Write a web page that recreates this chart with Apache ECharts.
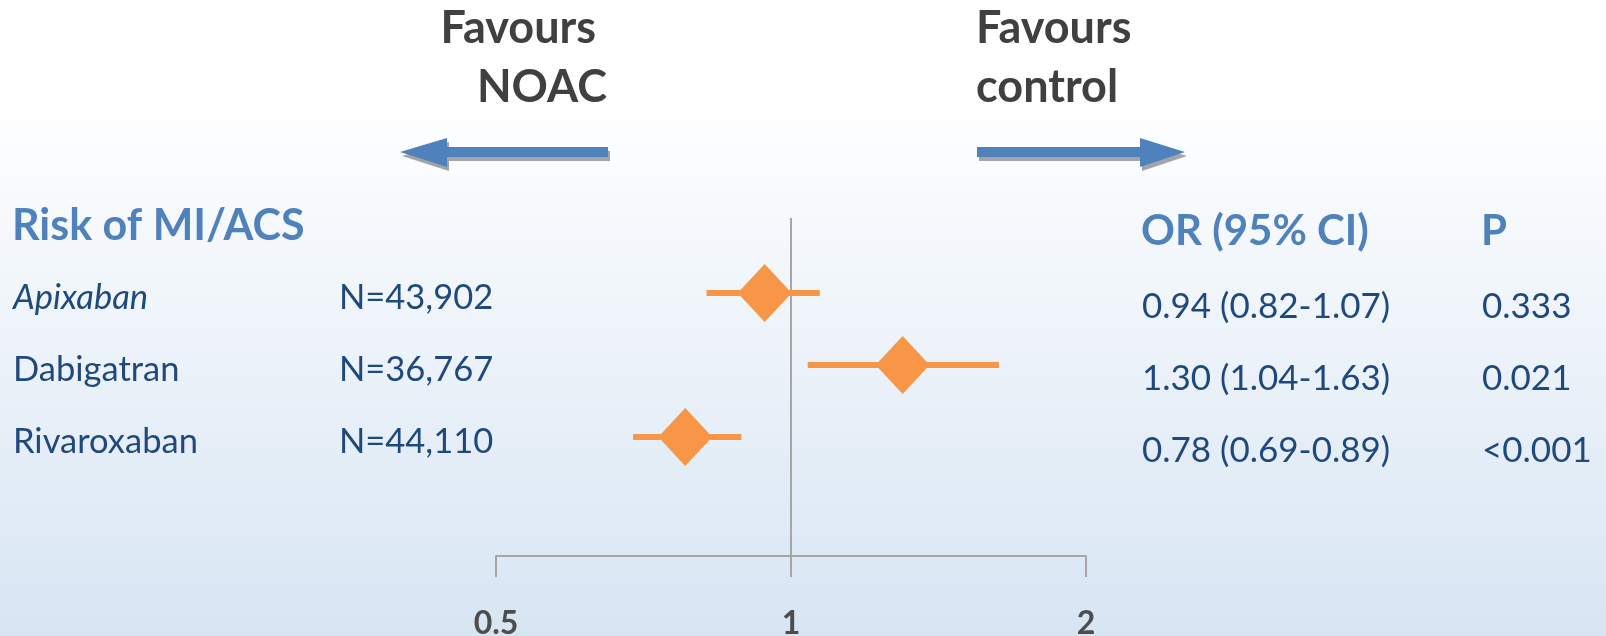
<!DOCTYPE html>
<html>
<head>
<meta charset="utf-8">
<script src="https://cdn.jsdelivr.net/npm/echarts@6/dist/echarts.min.js"></script>
<style>
  html, body { margin: 0; padding: 0; }
  #chart { width: 1606px; height: 636px; }
</style>
</head>
<body>
<div id="chart"></div>
<script>
// ---- data ----
const drugs = ['Apixaban', 'Dabigatran', 'Rivaroxaban'];
const nLabels = ['N=43,902', 'N=36,767', 'N=44,110'];
const orValues = [0.94, 1.30, 0.78];
const ciLow = [0.82, 1.04, 0.69];
const ciHigh = [1.07, 1.63, 0.89];
const pValues = ['0.333', '0.021', '<0.001'];
const xTicks = [0.5, 1, 2];
const refValue = 1;

const titleLeft = 'Risk of MI/ACS';
const titleOR = 'OR (95% CI)';
const titleP = 'P';
const favLeft = ['Favours ', 'NOAC'];
const favRight = ['Favours', 'control'];

// ---- derived ----
const rows = drugs.map((d, i) => i);
const orText = orValues.map((v, i) => v.toFixed(2) + ' (' + ciLow[i].toFixed(2) + '-' + ciHigh[i].toFixed(2) + ')');

const FONT = 'Lato';
const navy = '#1f497d';
const blue = '#4f81bd';
const grey = '#404040';
const lineGrey = '#a6a6a6';
const orange = '#f79646';

const chart = echarts.init(document.getElementById('chart'), null, { renderer: 'canvas' });

const arrowStyle = {
  fill: blue,
  shadowBlur: 0,
  shadowOffsetX: 2,
  shadowOffsetY: 4,
  shadowColor: 'rgba(0,0,0,0.35)'
};

const option = {
  animation: false,
  backgroundColor: {
    type: 'linear', x: 0, y: 0, x2: 0, y2: 1,
    colorStops: [
      { offset: 0, color: '#ffffff' },
      { offset: 0.15, color: '#ffffff' },
      { offset: 1, color: '#d7e5f3' }
    ]
  },
  textStyle: { fontFamily: FONT },
  grid: { left: 496, right: 520, top: 218, bottom: 80, containLabel: false, outerBoundsMode: 'none' },
  xAxis: {
    type: 'log',
    logBase: 2,
    min: 0.5,
    max: 2,
    splitNumber: 2,
    axisLine: { show: true, onZero: false, lineStyle: { color: lineGrey, width: 2 } },
    axisTick: { show: true, length: 21, lineStyle: { color: lineGrey, width: 2 }, customValues: xTicks },
    axisLabel: {
      customValues: xTicks,
      margin: 52,
      fontFamily: FONT,
      fontSize: 32,
      fontWeight: 'bold',
      color: '#4d4d4d',
      formatter: v => String(Math.round(v * 100) / 100)
    },
    splitLine: { show: false }
  },
  yAxis: [
    {
      type: 'value',
      min: -1.04,
      max: 3.65,
      inverse: true,
      position: 'left',
      axisLine: { show: false },
      axisTick: { show: false },
      splitLine: { show: false },
      axisLabel: {
        customValues: rows,
        margin: 483,
        align: 'left',
        padding: [10, 0, 0, 0],
        formatter: v => {
          const i = Math.round(v);
          const style = drugs[i] === 'Apixaban' ? 'it' : 'nm';
          return '{' + style + '|' + drugs[i] + '}{n|' + nLabels[i] + '}';
        },
        rich: {
          it: { fontFamily: FONT, fontSize: 34.5, fontStyle: 'italic', color: navy, width: 326 },
          nm: { fontFamily: FONT, fontSize: 34.5, color: navy, width: 326 },
          n: { fontFamily: FONT, fontSize: 34.5, color: navy }
        }
      }
    },
    {
      type: 'value',
      min: -1.04,
      max: 3.65,
      inverse: true,
      position: 'right',
      axisLine: { show: false },
      axisTick: { show: false },
      splitLine: { show: false },
      axisLabel: {
        customValues: rows,
        margin: 56,
        align: 'left',
        padding: [28, 0, 0, 0],
        formatter: v => {
          const i = Math.round(v);
          return '{or|' + orText[i] + '}{p|' + pValues[i] + '}';
        },
        rich: {
          or: { fontFamily: FONT, fontSize: 35, color: navy, width: 340 },
          p: { fontFamily: FONT, fontSize: 35, color: navy }
        }
      }
    }
  ],
  series: [
    {
      type: 'custom',
      name: 'CI',
      xAxisIndex: 0,
      yAxisIndex: 0,
      encode: { x: [0, 1], y: 2 },
      data: rows.map(i => [ciLow[i], ciHigh[i], i]),
      renderItem: (params, api) => {
        const p1 = api.coord([api.value(0), api.value(2)]);
        const p2 = api.coord([api.value(1), api.value(2)]);
        return {
          type: 'line',
          shape: { x1: p1[0], y1: p1[1], x2: p2[0], y2: p2[1] },
          style: { stroke: orange, lineWidth: 6 }
        };
      },
      z: 3
    },
    {
      type: 'scatter',
      name: 'OR',
      xAxisIndex: 0,
      yAxisIndex: 0,
      symbol: 'diamond',
      symbolSize: [54, 58],
      itemStyle: { color: orange, opacity: 1 },
      data: rows.map(i => [orValues[i], i]),
      z: 4,
      markLine: {
        silent: true,
        symbol: 'none',
        label: { show: false },
        lineStyle: { color: lineGrey, width: 2, type: 'solid' },
        data: [{ xAxis: refValue }],
        z: 2
      }
    }
  ],
  graphic: [
    { type: 'text', x: 607, y: 28, style: { text: favLeft[0], font: 'bold 45px ' + FONT, fill: grey, align: 'right', verticalAlign: 'middle' } },
    { type: 'text', x: 607, y: 87, style: { text: favLeft[1], font: 'bold 45px ' + FONT, fill: grey, align: 'right', verticalAlign: 'middle' } },
    { type: 'text', x: 976, y: 28, style: { text: favRight[0], font: 'bold 45px ' + FONT, fill: grey, align: 'left', verticalAlign: 'middle' } },
    { type: 'text', x: 976, y: 87, style: { text: favRight[1], font: 'bold 45px ' + FONT, fill: grey, align: 'left', verticalAlign: 'middle' } },
    {
      type: 'polygon',
      shape: { points: [[400, 152], [447, 138], [447, 147], [608, 147], [608, 157], [447, 157], [447, 167]] },
      style: arrowStyle
    },
    {
      type: 'polygon',
      shape: { points: [[977, 147], [1140, 147], [1140, 138], [1185, 152], [1140, 167], [1140, 157], [977, 157]] },
      style: arrowStyle
    },
    { type: 'text', x: 12, y: 226, style: { text: titleLeft, font: 'bold 43px ' + FONT, fill: blue, align: 'left', verticalAlign: 'middle' } },
    { type: 'text', x: 1141, y: 231, style: { text: titleOR, font: 'bold 42px ' + FONT, fill: blue, align: 'left', verticalAlign: 'middle' } },
    { type: 'text', x: 1481, y: 231, style: { text: titleP, font: 'bold 42px ' + FONT, fill: blue, align: 'left', verticalAlign: 'middle' } }
  ]
};

chart.setOption(option);
</script>
</body>
</html>
